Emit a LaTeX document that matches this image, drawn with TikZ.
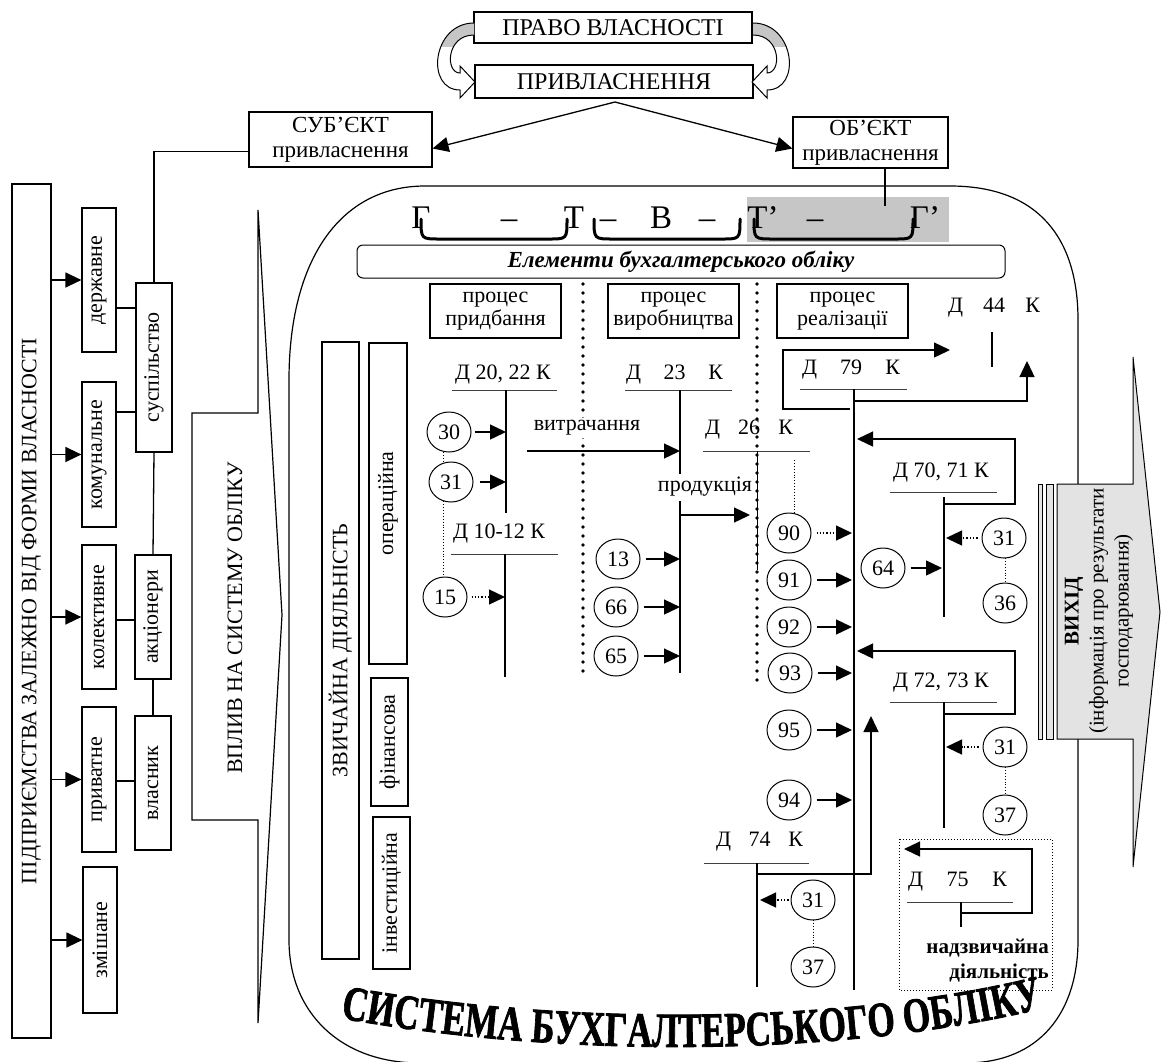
\documentclass[tikz,border=0pt]{standalone}
\usepackage{fontspec}
\setmainfont{Liberation Serif}
\newfontfamily\heavyfont[BoldFeatures={FakeBold=1.8}]{Liberation Serif}
\usetikzlibrary{arrows.meta,shapes.geometric,decorations.text,calc}
\begin{document}
\begin{tikzpicture}[x=1pt,y=-1pt,
  every node/.style={font=\fontsize{22}{25}\selectfont, inner sep=0pt},
  box/.style={draw, line width=1.2pt, fill=white, align=center},
  ln/.style={line width=1.3pt},
  arr/.style={line width=1.3pt, -{Triangle[length=16pt,width=15pt]}},
  num/.style={draw, ellipse, line width=1pt, minimum width=44pt, minimum height=40pt, fill=white},
  uline/.style={line width=0.6pt, draw=black!75},
  dotln/.style={line width=0.9pt, dotted},
  bigdots/.style={line width=3.6pt, line cap=round, dash pattern=on 0pt off 9pt},
  brace/.style={line width=3pt, line cap=round},
]
\useasboundingbox (0,0) rectangle (1162,1061);

% ---------------- system box ----------------
\draw[line width=1.2pt] (425,186) -- (950,186) .. controls (1040,186) and (1078,240) .. (1078,320)
  -- (1078,940) .. controls (1078,1012) and (1040,1063) .. (965,1063) -- (420,1063)
  .. controls (340,1063) and (289,1012) .. (289,940) -- (289,380)
  .. controls (289,260) and (340,186) .. (425,186) -- cycle;

% ---------------- top ----------------
\node[box, minimum width=278pt, minimum height=31pt, font=\fontsize{24}{26}\selectfont] (pravo) at (613,27.5) {ПРАВО ВЛАСНОСТІ};
\node[box, minimum width=278pt, minimum height=33pt, font=\fontsize{24}{26}\selectfont] (pryvl) at (614,81.5) {ПРИВЛАСНЕННЯ};

% curved block arrows
\path[fill=white] (474,23) .. controls (432,23) and (425,90) .. (460,90) -- (460,98) -- (475,82) -- (460,66) -- (460,73) .. controls (445,73) and (446,35) .. (474,35) -- cycle;
\begin{scope}
  \clip (474,23) .. controls (432,23) and (425,90) .. (460,90) -- (460,73) .. controls (445,73) and (446,35) .. (474,35) -- cycle;
  \fill[gray!45] (400,0) rectangle (480,47);
\end{scope}
\draw[line width=1pt] (474,23) .. controls (432,23) and (425,90) .. (460,90) -- (460,98) -- (475,82) -- (460,66) -- (460,73) .. controls (445,73) and (446,35) .. (474,35);
\begin{scope}[xshift=1227pt, xscale=-1]
  \path[fill=white] (474,23) .. controls (432,23) and (425,90) .. (460,90) -- (460,98) -- (475,82) -- (460,66) -- (460,73) .. controls (445,73) and (446,35) .. (474,35) -- cycle;
  \begin{scope}
    \clip (474,23) .. controls (432,23) and (425,90) .. (460,90) -- (460,73) .. controls (445,73) and (446,35) .. (474,35) -- cycle;
    \fill[gray!45] (400,0) rectangle (480,47);
  \end{scope}
  \draw[line width=1pt] (474,23) .. controls (432,23) and (425,90) .. (460,90) -- (460,98) -- (475,82) -- (460,66) -- (460,73) .. controls (445,73) and (446,35) .. (474,35);
\end{scope}

\node[box, minimum width=183pt, minimum height=55pt, font=\fontsize{23}{25}\selectfont] (subj) at (340.5,139.5) {СУБ’ЄКТ\\привласнення};
\node[box, minimum width=155pt, minimum height=51pt, font=\fontsize{23}{25}\selectfont] (obj) at (870.5,142.5) {ОБ’ЄКТ\\привласнення};
\coordinate (split) at (615,102);
\draw[arr] (split) -- ([yshift=-9pt]subj.east);
\draw[arr] (split) -- ([yshift=-6pt]obj.west);

% ---------------- left panel ----------------
\node[box, rotate=90, minimum width=854pt, minimum height=39pt] (pidpr) at (31.5,611) {ПІДПРИЄМСТВА ЗАЛЕЖНО ВІД ФОРМИ ВЛАСНОСТІ};
\node[box, rotate=90, minimum width=144pt, minimum height=34pt] (derzh) at (99,280) {державне};
\node[box, rotate=90, minimum width=145pt, minimum height=34pt] (komun) at (99,454.5) {комунальне};
\node[box, rotate=90, minimum width=144pt, minimum height=34pt] (kolek) at (99,617) {колективне};
\node[box, rotate=90, minimum width=145pt, minimum height=34pt] (pryv) at (99,779.5) {приватне};
\node[box, rotate=90, minimum width=146pt, minimum height=34pt] (zmish) at (100,940) {змішане};
\node[box, rotate=90, minimum width=169pt, minimum height=36pt] (susp) at (154,367.5) {суспільство};
\node[box, rotate=90, minimum width=124pt, minimum height=36pt] (akts) at (153,617) {акціонери};
\node[box, rotate=90, minimum width=134pt, minimum height=36pt] (vlas) at (153,783) {власник};

\foreach \n in {derzh,komun,kolek,pryv,zmish}
  \draw[arr] (pidpr.south |- \n.center) -- (\n.north |- \n.center);

\draw[ln] (derzh.south |- 0,308) -- (susp.north |- 0,308);
\draw[ln] (komun.south |- 0,412) -- (susp.north |- 0,412);
\draw[ln] (kolek.south |- 0,620) -- (akts.north |- 0,620);
\draw[ln] (pryv.south |- 0,781) -- (vlas.north |- 0,781);
\draw[ln] (susp.west) -- (akts.east);
\draw[ln] (akts.west) -- (vlas.east);
\coordinate (subjL) at ([yshift=-12pt]subj.west);
\draw[ln] (subjL) -- (susp.east |- subjL) -- (susp.east);

% influence arrow
\draw[line width=1.2pt, fill=white] (192,413) -- (258,413) -- (258,210) -- (282,615) -- (258,1023) -- (258,820) -- (192,820) -- cycle;
\node[rotate=90] (vplyv) at (235,618) {ВПЛИВ НА СИСТЕМУ ОБЛІКУ};

% ---------------- formula ----------------
\fill[gray!45] (747,197) rectangle (949,242);
\draw[ln] ([xshift=14.5pt]obj.south) -- ++(0,37);
\begin{scope}[every node/.style={font=\fontsize{33}{36}\selectfont, inner sep=0pt, anchor=base}]
  \node (fG) at (421,228) {Г};
  \node (fd1) at (509,228) {–};
  \node (fT) at (574,228) {Т};
  \node (fd2) at (608,228) {–};
  \node (fV) at (661,228) {В};
  \node (fd3) at (707,228) {–};
  \node (fT2) at (763,228) {Т’};
  \node (fd4) at (815,228) {–};
  \node (fG2) at (925,228) {Г’};
\end{scope}
\draw[brace] (421,219) .. controls (421,239) .. (440,239) -- (549,239) .. controls (567,239) .. (567,219);
\draw[brace] (594,219) .. controls (594,239) .. (613,239) -- (722,239) .. controls (740,239) .. (740,219);
\draw[brace] (754,219) .. controls (754,239) .. (773,239) -- (895,239) .. controls (913,239) .. (913,219);

\node[box, rounded corners=6pt, line width=1pt, minimum width=648pt, minimum height=33pt, font=\fontsize{23}{25}\selectfont\bfseries\itshape] (elem) at (681,261.5) {Елементи бухгалтерського обліку};

% separators
\draw[bigdots] (583,284) -- (583,677);
\draw[bigdots] (757,284) -- (757,680);

\node[box, minimum width=131pt, minimum height=54pt, font=\fontsize{22}{23}\selectfont] (prid) at (495.5,311) {процес\\придбання};
\node[box, minimum width=131pt, minimum height=54pt, font=\fontsize{22}{23}\selectfont] (vyrob) at (673.5,311) {процес\\виробництва};
\node[box, minimum width=131pt, minimum height=54pt, font=\fontsize{22}{23}\selectfont] (real) at (842.5,311) {процес\\реалізації};

% activity boxes
\node[box, rotate=90, minimum width=617pt, minimum height=37pt] (zvych) at (340.5,650.5) {ЗВИЧАЙНА ДІЯЛЬНІСТЬ};
\node[box, rotate=90, minimum width=321pt, minimum height=38pt] (oper) at (388,503.5) {операційна};
\node[box, rotate=90, minimum width=128pt, minimum height=37pt] (fin) at (389.5,742) {фінансова};
\node[box, rotate=90, minimum width=152pt, minimum height=37pt] (inv) at (391.5,893) {інвестиційна};

% ---------------- T-accounts ----------------
% 20,22
\node (a2022) at (503,375) {Д 20, 22 К};
\coordinate (v2022t) at (506,390); \coordinate (v2022b) at (506,513);
\draw[uline] (452,390) -- (557,390);
\draw[ln] (v2022t) -- (v2022b);
% 10-12
\node (a1012) at (499,534) {Д 10-12 К};
\coordinate (v1012t) at (505,554); \coordinate (v1012b) at (505,677);
\draw[uline] (451,554) -- (558,554);
\draw[ln] (v1012t) -- (v1012b);
% 23
\node (a23) at (674.5,375) {\makebox[97pt]{Д\hfill 23\hfill К}};
\coordinate (v23t) at (680,390); \coordinate (v23b) at (680,673);
\draw[uline] (625,390) -- (732,390);
\draw[ln] (v23t) -- (v23b);
% 26
\node (a26) at (749,430) {\makebox[88pt]{Д\hfill 26\hfill К}};
\coordinate (v26t) at (757,451); \coordinate (v26b) at (757,570);
\draw[uline] (703,451) -- (810,451);
\draw[line width=1pt] (v26t) -- (v26b);
% 79
\node (a79) at (851,370) {\makebox[98pt]{Д\hfill 79\hfill К}};
\coordinate (v79t) at (854,389); \coordinate (v79b) at (854,990);
\draw[uline] (800,389) -- (907,389);
\draw[ln] (v79t) -- (v79b);
% 44
\node (a44) at (994,308) {\makebox[92pt]{Д\hfill 44\hfill К}};
\coordinate (v44t) at (992,332); \coordinate (v44b) at (992,367);
\draw[ln] (v44t) -- (v44b);
% 70,71
\node (a7071) at (941,473) {Д 70, 71 К};
\coordinate (v7071t) at (944,497); \coordinate (v7071b) at (944,617);
\draw[uline] (890,492) -- (997,492);
\draw[ln] (v7071t) -- (v7071b);
% 72,73
\node (a7273) at (941,683) {Д 72, 73 К};
\coordinate (v7273t) at (944,702); \coordinate (v7273b) at (944,828);
\draw[uline] (890,702) -- (997,702);
\draw[ln] (v7273t) -- (v7273b);
% 74
\node (a74) at (759.5,842) {\makebox[87pt]{Д\hfill 74\hfill К}};
\coordinate (v74t) at (757,863); \coordinate (v74b) at (757,987);
\draw[uline] (704,863) -- (809,863);
\draw[ln] (v74t) -- (v74b);
% 75
\draw[line width=1pt, dotted] (899,839) rectangle (1052,990);
\node (a75) at (957.5,882) {\makebox[99pt]{Д\hfill 75\hfill К}};
\coordinate (v75t) at (961,902); \coordinate (v75b) at (961,927);
\draw[uline] (907,902) -- (1013,902);
\draw[ln] (v75t) -- (v75b);
\node[anchor=east, align=right, font=\fontsize{21}{25}\selectfont\bfseries] (nadzv) at (1049,961) {надзвичайна\\діяльність};

% flows between accounts
\node[fill=white, inner sep=2pt] (vytr) at (587,428) {витрачання};
\coordinate (vytrs) at (527,451);
\draw[arr] (vytrs) -- (vytrs -| v23t);
\draw[white, line width=4pt] (680,474) -- (680,501);
\node[fill=white, inner sep=1pt] (prod) at (705,487) {продукція};
\coordinate (prods) at (680,515);
\draw[arr] (prods) -- (750,515);

% 79 -> 44 loops
\coordinate (l79a) at (850,409);
\draw[arr] (l79a) -- (783,409) -- (783,350) -- (950,350);
\coordinate (l79b) at (854,401);
\draw[arr] (l79b) -- (1027,401) -- (1027,361);
% 70,71 loop
\coordinate (l70) at (944,504);
\draw[arr] (l70) -- (1015,504) -- (1015,439) -- (857,439);
% 72,73 loop
\coordinate (l72) at (944,714);
\draw[arr] (l72) -- (1015,714) -- (1015,651) -- (857,651);
% 74
\coordinate (l74) at (757,874);
\draw[arr] (l74) -- (871,874) -- (871,716);
% 75
\coordinate (l75) at (961,913);
\draw[arr] (l75) -- (1032,913) -- (1032,849) -- (904,849);

% dotted links between circles
\draw[dotln] (443,452) -- (443,577);
\draw[dotln] (794,460) -- (794,513);
\draw[dotln] (1005,558) -- (1005,583);
\draw[dotln] (1005,767) -- (1005,795);
\draw[dotln] (813,920) -- (813,947);

% circles
\node[num] (c30) at (449,432) {30};
\node[num] (c31a) at (451,482) {31};
\node[num] (c15) at (445,597) {15};
\node[num] (c13) at (618,559) {13};
\node[num] (c66) at (616,607) {66};
\node[num] (c65) at (616,656) {65};
\node[num] (c90) at (789,533) {90};
\node[num] (c91) at (789,580) {91};
\node[num] (c92) at (789,627) {92};
\node[num] (c93) at (790,673) {93};
\node[num] (c95) at (789,730) {95};
\node[num] (c94) at (789,800) {94};
\node[num] (c64) at (883,568) {64};
\node[num] (c31b) at (1004,538) {31};
\node[num] (c36) at (1005,603) {36};
\node[num] (c31c) at (1005,747) {31};
\node[num] (c37a) at (1005,815) {37};
\node[num] (c31d) at (813,900) {31};
\node[num] (c37b) at (813,967) {37};

% circle arrows
\draw[arr] ([xshift=3pt]c30.east) -- (c30.east -| v2022t);
\draw[arr] ([xshift=6pt]c31a.east) -- (c31a.east -| v2022t);
\draw[arr, dotted] ([xshift=4pt]c15.east) -- (c15.east -| v1012t);
\draw[arr] ([xshift=5pt]c13.east) -- (c13.east -| v23t);
\draw[arr] ([xshift=5pt]c66.east) -- (c66.east -| v23t);
\draw[arr] ([xshift=5pt]c65.east) -- (c65.east -| v23t);
\draw[arr, dotted] ([xshift=5pt]c90.east) -- ([xshift=-2pt]c90.east -| v79t);
\foreach \c in {c91,c92,c93,c95,c94}
  \draw[arr] ([xshift=5pt]\c.east) -- ([xshift=-2pt]\c.east -| v79t);
\draw[arr] ([xshift=5pt]c64.east) -- ([xshift=-2pt]c64.east -| v7071t);
\draw[arr, dotted] ([xshift=-4pt]c31b.west) -- ([xshift=2pt]c31b.west -| v7071t);
\draw[arr, dotted] ([xshift=-4pt]c31c.west) -- ([xshift=2pt]c31c.west -| v7273t);
\draw[arr, dotted] ([xshift=-2pt]c31d.west) -- ([xshift=3pt]c31d.west -| v74t);

% ---------------- output arrow ----------------
\draw[line width=1pt, fill=gray!22] (1038,484) rectangle (1042,739);
\draw[line width=1pt, fill=gray!22] (1046,484) rectangle (1053,739);
\draw[line width=1pt, fill=gray!22] (1057,484) -- (1133,484) -- (1133,357) -- (1160,612) -- (1133,867) -- (1133,739) -- (1057,739) -- cycle;
\node[rotate=90, align=center, font=\fontsize{21}{25}\selectfont] (vyhid) at (1099,611) {\textbf{ВИХІД}\\(інформація про результати\\господарювання)};

% ---------------- curved title ----------------
\path[decorate, decoration={text effects along path,
  text={СИСТЕМА БУХГАЛТЕРСЬКОГО ОБЛІКУ}, text align=center,
  text effects/.cd, text along path,
  every character/.style={font=\heavyfont\bfseries\fontsize{35}{35}\selectfont, yscale=1.4, anchor=base}}]
  (340,1018) .. controls (560,1058) and (840,1058) .. (1044,1008);
\end{tikzpicture}
\end{document}
